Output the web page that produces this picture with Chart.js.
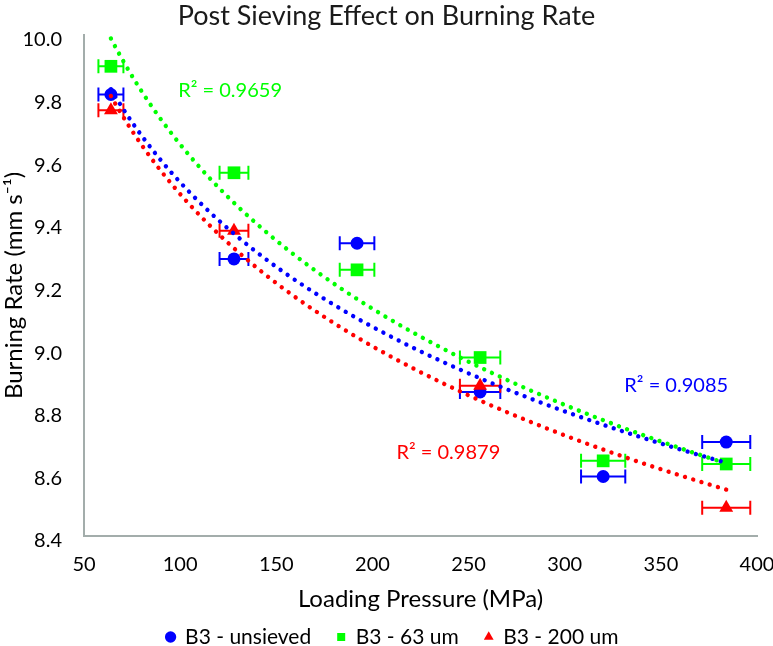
<!DOCTYPE html>
<html><head><meta charset="utf-8">
<script src="https://cdn.jsdelivr.net/npm/chart.js@4/dist/chart.umd.min.js"></script>
<style>html,body{margin:0;padding:0;background:#fff}#wrap{width:773px;height:646px}</style>
</head><body><div id="wrap"><canvas id="c" width="773" height="646"></canvas></div>
<script>
// ---- data ----
const seriesNames = ['B3 - unsieved', 'B3 - 63 um', 'B3 - 200 um'];
const pressuresAll = [64, 128, 192, 256, 320, 384];          // MPa
const unsievedRate = [9.81, 9.285, 9.335, 8.86, 8.59, 8.70];  // mm/s
const sieved63Rate = [9.90, 9.56, 9.25, 8.97, 8.64, 8.63];
const pressures200 = [64, 128, 256, 384];
const sieved200Rate = [9.76, 9.375, 8.88, 8.49];
const pressureErrAll = [6.5, 7.5, 9, 10.5, 11.5, 12.5];      // +/- MPa
const pressureErr200 = [6.5, 7.5, 10.5, 12.5];
const r2Texts = ['R\u00B2 = 0.9085', 'R\u00B2 = 0.9659', 'R\u00B2 = 0.9879'];
const xTickValues = [50, 100, 150, 200, 250, 300, 350, 400];
const yTickValues = [8.4, 8.6, 8.8, 9.0, 9.2, 9.4, 9.6, 9.8, 10.0];

const colors = ['#0000ff', '#00ff00', '#ff0000'];
const FONT = 'Lato, Carlito, Calibri, "Open Sans", sans-serif';

function pts(xs, ys, es) { return xs.map((x, i) => ({ x, y: ys[i], xErr: es[i] })); }
// least-squares logarithmic trendline (y = a + b ln x), as in the original spreadsheet
function logTrend(xs, ys) {
  const n = xs.length, lx = xs.map(Math.log);
  const mx = lx.reduce((s, v) => s + v, 0) / n, my = ys.reduce((s, v) => s + v, 0) / n;
  let sxy = 0, sxx = 0;
  lx.forEach((v, i) => { sxy += (v - mx) * (ys[i] - my); sxx += (v - mx) * (v - mx); });
  const b = sxy / sxx, a = my - b * mx;
  const out = [], lo = Math.min(...xs), hi = Math.max(...xs);
  for (let x = lo; x <= hi + 1e-9; x += 2) out.push({ x, y: a + b * Math.log(x) });
  return out;
}

const markerStyles = ['circle', 'rect', 'triangle'];
const markerRadius = [6.5, 9, 8];
const seriesPts = [
  pts(pressuresAll, unsievedRate, pressureErrAll),
  pts(pressuresAll, sieved63Rate, pressureErrAll),
  pts(pressures200, sieved200Rate, pressureErr200)
];
const trendPts = [
  logTrend(pressuresAll, unsievedRate),
  logTrend(pressuresAll, sieved63Rate),
  logTrend(pressures200, sieved200Rate)
];

const datasets = [];
seriesPts.forEach((d, i) => datasets.push({
  type: 'scatter', label: seriesNames[i], data: d,
  pointStyle: markerStyles[i], pointRadius: markerRadius[i], pointHoverRadius: markerRadius[i],
  backgroundColor: colors[i], borderColor: colors[i], borderWidth: 0, order: 10 - i
}));
trendPts.forEach((d, i) => datasets.push({
  type: 'line', label: 'trend ' + i, data: d, showLine: true, fill: false,
  pointRadius: 0, borderColor: colors[i], borderWidth: 4.4, borderDash: [0.01, 8.6],
  borderCapStyle: 'round', tension: 0, order: 3 - i
}));

const errorBars = {
  id: 'errorBars',
  beforeDatasetsDraw(chart) {
    const { ctx, scales: { x, y } } = chart;
    ctx.save();
    ctx.lineWidth = 2;
    for (let i = 0; i < 3; i++) {
      ctx.strokeStyle = colors[i];
      chart.data.datasets[i].data.forEach(p => {
        const x0 = x.getPixelForValue(p.x - p.xErr), x1 = x.getPixelForValue(p.x + p.xErr);
        const py = y.getPixelForValue(p.y);
        ctx.beginPath();
        ctx.moveTo(x0, py); ctx.lineTo(x1, py);
        ctx.moveTo(x0, py - 7); ctx.lineTo(x0, py + 7);
        ctx.moveTo(x1, py - 7); ctx.lineTo(x1, py + 7);
        ctx.stroke();
      });
    }
    ctx.restore();
  }
};

const r2Labels = {
  id: 'r2Labels',
  afterDatasetsDraw(chart, args, opts) {
    const { ctx, scales: { x, y } } = chart;
    ctx.save();
    ctx.font = opts.font;
    ctx.textAlign = 'left';
    ctx.textBaseline = 'middle';
    opts.items.forEach(it => {
      ctx.fillStyle = it.color;
      ctx.fillText(it.text, x.getPixelForValue(it.at[0]), y.getPixelForValue(it.at[1]));
    });
    ctx.restore();
  }
};

// keep the legend compact in the layout but with wide horizontal spacing between items
const LEGEND_PAD = 26, LEGEND_FONT = 21, LEGEND_BOX_H = 32, LEGEND_TEXT_FROM_BOTTOM = 9, LEGEND_SHIFT_X = 6;
const legendFix = {
  id: 'legendFix',
  afterInit(chart) {
    const lg = chart.legend;
    const orig = lg.fit;
    lg.fit = function () { orig.call(this); this.height = LEGEND_BOX_H; };
  },
  afterLayout(chart) {
    const lg = chart.legend;
    // text centre = top + padding + itemHeight/2
    lg.top = lg.bottom - LEGEND_TEXT_FROM_BOTTOM - LEGEND_PAD - LEGEND_FONT / 2;
    lg.left += LEGEND_SHIFT_X; lg.right += LEGEND_SHIFT_X;
  }
};

new Chart(document.getElementById('c'), {
  data: { datasets },
  plugins: [errorBars, r2Labels, legendFix],
  options: {
    responsive: false, animation: false, devicePixelRatio: 1,
    layout: { padding: { left: 0, right: 0, top: 0, bottom: 0 } },
    plugins: {
      tooltip: { enabled: false },
      title: {
        display: true, text: 'Post Sieving Effect on Burning Rate', color: '#1a1a1a',
        font: { family: FONT, size: 27, weight: 'normal' }, padding: { top: 0, bottom: 2.6 }
      },
      legend: {
        position: 'bottom',
        labels: {
          usePointStyle: true, boxWidth: 8, boxHeight: 8, padding: LEGEND_PAD, color: '#000',
          font: { family: FONT, size: LEGEND_FONT },
          filter: (item) => item.datasetIndex < 3,
          sort: (a, b) => a.datasetIndex - b.datasetIndex
        }
      },
      r2Labels: {
        font: '20px ' + FONT,
        items: [
          { text: r2Texts[1], color: colors[1], at: [99, 9.824] },
          { text: r2Texts[0], color: colors[0], at: [331, 8.879] },
          { text: r2Texts[2], color: colors[2], at: [212.5, 8.665] }
        ]
      }
    },
    scales: {
      x: {
        type: 'linear', min: 50, max: 400,
        afterBuildTicks: (s) => { s.ticks = xTickValues.map(v => ({ value: v })); },
        afterFit: (s) => { s.height = 78; s.paddingRight = 16; s.paddingLeft = 0; },
        ticks: { color: '#000', font: { family: FONT, size: 20 }, padding: 17, maxRotation: 0 },
        grid: { display: false, drawTicks: false },
        border: { display: true, color: '#a3adab', width: 2 },
        title: { display: true, text: 'Loading Pressure (MPa)', color: '#000',
          font: { family: FONT, size: 24 }, padding: { top: 4, bottom: 0 } }
      },
      y: {
        type: 'linear', min: 8.4, max: 10.0,
        afterBuildTicks: (s) => { s.ticks = yTickValues.map(v => ({ value: v })); },
        afterFit: (s) => { s.width = 84; },
        ticks: { color: '#000', font: { family: FONT, size: 20 }, padding: 22, labelOffset: 5,
          callback: (v) => Number(v).toFixed(1) },
        grid: { display: false, drawTicks: false },
        border: { display: true, color: '#a3adab', width: 2 },
        title: { display: true, text: 'Burning Rate (mm s\u207B\u00B9)', color: '#000',
          font: { family: FONT, size: 24 }, padding: { top: 0, bottom: 0 } }
      }
    }
  }
});
</script></body></html>
